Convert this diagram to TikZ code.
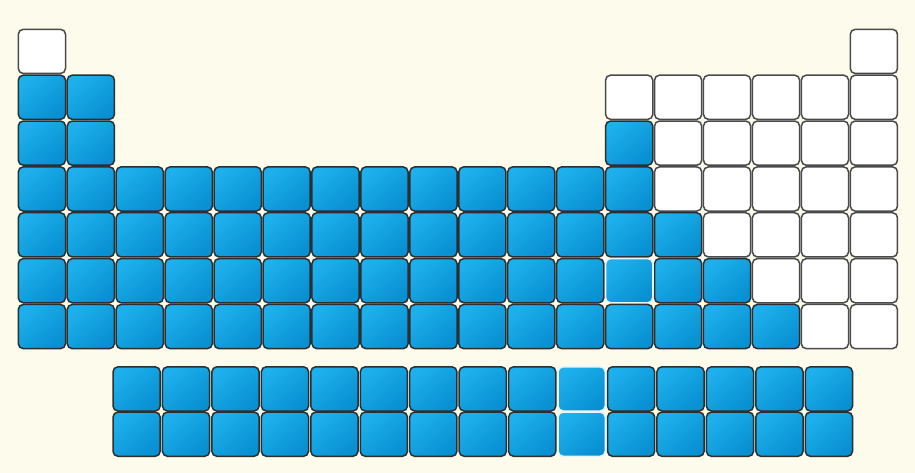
\documentclass[tikz,border=0pt]{standalone}
\usetikzlibrary{calc}
\definecolor{bgc}{HTML}{FDFBEC}
\definecolor{bluelt}{HTML}{1DB0EC}
\definecolor{bluedk}{HTML}{0890D2}
\definecolor{edgec}{HTML}{2E2E2E}
\definecolor{edgew}{HTML}{4A4A4A}
\definecolor{edgeh}{HTML}{E8F6FC}
\tikzset{
  cellbase/.style={anchor=north west, minimum width=47.2pt, minimum height=44.2pt,
    inner sep=0pt, outer sep=0pt, rounded corners=5pt, line width=1.5pt},
  cellb/.style={cellbase, draw=edgec, top color=bluelt, bottom color=bluedk, shading angle=40},
  cellh/.style={cellbase, draw=edgeh, top color=bluelt, bottom color=bluedk, shading angle=40},
  cellw/.style={cellbase, draw=edgew, fill=white},
}
\newcommand\pcell[3]{\node[#1] (m-#2-#3) at ({18.3+(#3-1)*48.94}, {29.3+(#2-1)*45.86}) {};}
\newcommand\lcell[3]{\node[#1] (l-#2-#3) at ({113+(#3-1)*49.45}, {366.8+(#2-1)*45.3}) {};}
\begin{document}
\begin{tikzpicture}[x=1pt,y=-1pt]
\fill[bgc] (0,0) rectangle (915,473);
\useasboundingbox (0,0) rectangle (915,473);
% row 1
\pcell{cellw}{1}{1}
\pcell{cellw}{1}{18}
% row 2
\foreach \c in {1,2} {\pcell{cellb}{2}{\c}}
\foreach \c in {13,...,18} {\pcell{cellw}{2}{\c}}
% row 3
\foreach \c in {1,2,13} {\pcell{cellb}{3}{\c}}
\foreach \c in {14,...,18} {\pcell{cellw}{3}{\c}}
% row 4
\foreach \c in {1,...,13} {\pcell{cellb}{4}{\c}}
\foreach \c in {14,...,18} {\pcell{cellw}{4}{\c}}
% row 5
\foreach \c in {1,...,14} {\pcell{cellb}{5}{\c}}
\foreach \c in {15,...,18} {\pcell{cellw}{5}{\c}}
% row 6
\foreach \c in {1,...,12,14,15} {\pcell{cellb}{6}{\c}}
\pcell{cellh}{6}{13}
\foreach \c in {16,17,18} {\pcell{cellw}{6}{\c}}
% row 7
\foreach \c in {1,...,16} {\pcell{cellb}{7}{\c}}
\foreach \c in {17,18} {\pcell{cellw}{7}{\c}}
% lanthanides / actinides
\foreach \r in {1,2} {
  \foreach \c in {1,...,9,11,12,13,14,15} {\lcell{cellb}{\r}{\c}}
  \lcell{cellh}{\r}{10}
}
\end{tikzpicture}
\end{document}
